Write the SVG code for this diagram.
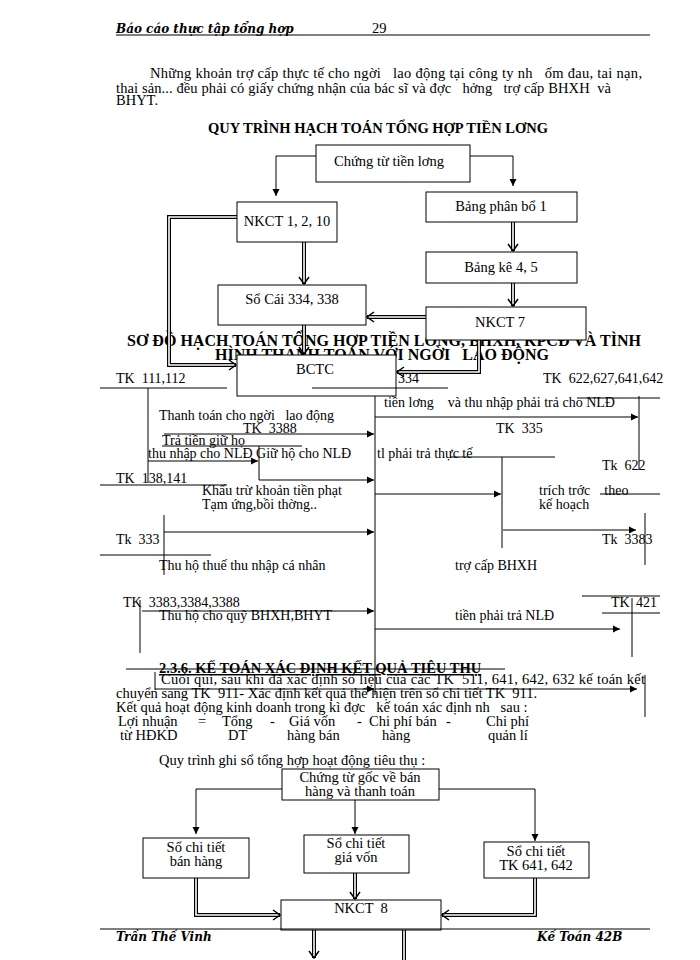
<svg xmlns="http://www.w3.org/2000/svg" width="700" height="960" viewBox="0 0 700 960">
<style>
text{font-family:"Liberation Serif","DejaVu Serif",serif;font-size:14px;fill:#000;white-space:pre}
.t{font-size:14.5px}
.h{font-size:14.5px;font-weight:bold}
.h2{font-size:16px;font-weight:bold}
.i{font-style:italic;font-weight:bold;font-size:12px;font-family:"DejaVu Serif",serif}
.box{fill:#fff;stroke:#000;stroke-width:1}
.ln{fill:none;stroke:#000;stroke-width:1}
.db{fill:none;stroke:#000;stroke-width:4}
.dw{fill:none;stroke:#fff;stroke-width:1.6}
</style>
<defs>
<marker id="a" markerWidth="8" markerHeight="8" refX="7" refY="4" orient="auto" markerUnits="userSpaceOnUse"><path d="M0,0.5 L7,4 L0,7.5 Z" fill="#000"/></marker>
<marker id="d" markerWidth="12" markerHeight="12" refX="10" refY="6" orient="auto" markerUnits="userSpaceOnUse"><path d="M3,1 L10,6 L3,11" fill="none" stroke="#000" stroke-width="1.5"/></marker>
</defs>
<rect width="700" height="960" fill="#fff"/>

<text x="116" y="33" class="i">Báo cáo thực tập tổng hợp</text>
<text x="372" y="33" class="t">29</text>
<line x1="116" y1="35" x2="650" y2="35" class="ln"/>
<text x="150" y="78" class="t" textLength="492">Những khoản trợ cấp thực tế cho ngời   lao động tại công ty nh   ốm đau, tai nạn,</text>
<text x="116" y="93" class="t" textLength="495">thai sản... đều phải có giấy chứng nhận của bác sĩ và đợc   hởng   trợ cấp BHXH  và</text>
<text x="116" y="105" class="t">BHYT.</text>
<text x="378" y="133" class="h" text-anchor="middle">QUY TRÌNH HẠCH TOÁN TỔNG HỢP TIỀN LƠNG</text>

<text x="127" y="346" class="h2" textLength="514">SƠ ĐỒ HẠCH TOÁN TỔNG HỢP TIỀN LƠNG, BHXH, KPCĐ VÀ TÌNH</text>
<text x="382" y="360" class="h2" text-anchor="middle">HÌNH THANH TOÁN VỚI NGỜI   LAO ĐỘNG</text>

<g id="connectors">
<polyline points="316,156 276,156 276,196" class="ln" marker-end="url(#a)"/>
<polyline points="470,156 513,156 513,186" class="ln" marker-end="url(#a)"/>
<line x1="304" y1="242" x2="304" y2="284" class="db"/><line x1="304" y1="242" x2="304" y2="284" class="dw" marker-end="url(#d)"/>
<line x1="513" y1="222" x2="513" y2="251" class="db"/><line x1="513" y1="222" x2="513" y2="251" class="dw" marker-end="url(#d)"/>
<line x1="513" y1="283" x2="513" y2="306" class="db"/><line x1="513" y1="283" x2="513" y2="306" class="dw" marker-end="url(#d)"/>
<line x1="426" y1="317" x2="367" y2="317" class="db"/><line x1="426" y1="317" x2="367" y2="317" class="dw" marker-end="url(#d)"/>
<line x1="304" y1="325" x2="304" y2="354" class="db"/><line x1="304" y1="325" x2="304" y2="354" class="dw" marker-end="url(#d)"/>
<polyline points="237,217 169,217 169,365 236,365" class="db"/><polyline points="237,217 169,217 169,365 236,365" class="dw" marker-end="url(#d)"/>
<polyline points="479,340 479,372 397,372" class="db"/><polyline points="479,340 479,372 397,372" class="dw" marker-end="url(#d)"/>
</g>

<g id="n-chungtu"><rect x="316" y="145" width="154" height="37" class="box"/><text x="389" y="166" class="t" text-anchor="middle">Chứng từ tiền lơng</text></g>
<g id="n-nkct1"><rect x="237" y="202" width="100" height="40" class="box"/><text x="287" y="226" class="t" text-anchor="middle">NKCT 1, 2, 10</text></g>
<g id="n-bpb"><rect x="426" y="192" width="151" height="30" class="box"/><text x="501" y="211" class="t" text-anchor="middle">Bảng phân bổ 1</text></g>
<g id="n-bk"><rect x="426" y="252" width="151" height="31" class="box"/><text x="501" y="272" class="t" text-anchor="middle">Bảng kê 4, 5</text></g>
<g id="n-socai"><rect x="218" y="285" width="148" height="40" class="box"/><text x="292" y="304" class="t" text-anchor="middle">Sổ Cái 334, 338</text></g>
<g id="n-nkct7"><rect x="426" y="307" width="160" height="33" class="box"/><text x="500" y="327" class="t" text-anchor="middle">NKCT 7</text></g>
<g id="n-bctc"><rect x="237" y="355" width="159" height="41" class="box"/><text x="296" y="374" class="t">BCTC</text></g>

<g id="t-accounts">
<text x="116" y="383">TK  111,112</text>
<line x1="100" y1="388" x2="227" y2="388" class="ln"/>
<line x1="148" y1="388" x2="148" y2="483" class="ln"/>
<text x="398" y="383">334</text>
<line x1="312" y1="388" x2="448" y2="388" class="ln"/>
<line x1="375" y1="396" x2="375" y2="695" class="ln"/>
<text x="543" y="383">TK  622,627,641,642</text>
<line x1="577" y1="398" x2="660" y2="398" class="ln"/>
<line x1="639" y1="396" x2="639" y2="470" class="ln"/>
<text x="384" y="407">tiền lơng    và thu nhập phải trả cho NLĐ</text>
<line x1="375" y1="417" x2="638" y2="417" class="ln" marker-end="url(#a)"/>
<text x="159" y="420">Thanh toán cho ngời   lao động</text>
<text x="243" y="433">TK  3388</text>
<line x1="164" y1="434" x2="374" y2="434" class="ln" marker-end="url(#a)"/>
<line x1="162" y1="446" x2="302" y2="446" class="ln"/>
<text x="162" y="445">Trả tiền giữ họ</text>
<text x="148" y="458">thu nhập cho NLĐ Giữ hộ cho NLĐ</text>
<line x1="148" y1="461" x2="258" y2="461" class="ln" marker-end="url(#a)"/>
<line x1="259" y1="446" x2="259" y2="480" class="ln"/>
<line x1="259" y1="480" x2="374" y2="480" class="ln" marker-end="url(#a)"/>
<text x="496" y="433">TK  335</text>
<text x="377" y="458">tl phải trả thực tế</text>
<line x1="450" y1="457" x2="555" y2="457" class="ln"/>
<line x1="502" y1="457" x2="502" y2="548" class="ln"/>
<line x1="375" y1="494" x2="501" y2="494" class="ln" marker-end="url(#a)"/>
<line x1="503" y1="530" x2="636" y2="530" class="ln" marker-end="url(#a)"/>
<text x="602" y="470">Tk  622</text>
<text x="116" y="483">TK  138,141</text>
<line x1="100" y1="485" x2="227" y2="485" class="ln"/>
<text x="539" y="495">trích trớc    theo</text>
<line x1="600" y1="494" x2="660" y2="494" class="ln"/>
<text x="539" y="509">kế hoạch</text>
<text x="202" y="495">Khấu trừ khoản tiền phạt</text>
<text x="202" y="509">Tạm ứng,bồi thờng..</text>
<line x1="645" y1="513" x2="645" y2="565" class="ln"/>
<text x="602" y="544">Tk  3383</text>
<line x1="164" y1="515" x2="164" y2="575" class="ln"/>
<line x1="164" y1="532" x2="374" y2="532" class="ln" marker-end="url(#a)"/>
<text x="116" y="544">Tk  333</text>
<line x1="100" y1="555" x2="211" y2="555" class="ln"/>
<text x="159" y="570">Thu hộ thuế thu nhập cá nhân</text>
<text x="455" y="570">trợ cấp BHXH</text>
<text x="123" y="607">TK  3383,3384,3388</text>
<line x1="140" y1="600" x2="140" y2="653" class="ln"/>
<line x1="142" y1="611" x2="374" y2="611" class="ln" marker-end="url(#a)"/>
<text x="159" y="620">Thu hộ cho quỹ BHXH,BHYT</text>
<line x1="582" y1="596" x2="660" y2="596" class="ln"/>
<text x="611" y="607">TK</text><text x="636" y="607">421</text>
<line x1="632" y1="598" x2="632" y2="657" class="ln"/>
<line x1="602" y1="613" x2="660" y2="613" class="ln"/>
<text x="455" y="620">tiền phải trả NLĐ</text>
<line x1="375" y1="629" x2="620" y2="629" class="ln" marker-end="url(#a)"/>
</g>

<text x="159" y="673" class="h" text-decoration="underline">2.3.6. KẾ TOÁN XÁC ĐỊNH KẾT QUẢ TIÊU THỤ</text>
<line x1="126" y1="669" x2="505" y2="669" class="ln"/>
<line x1="155" y1="672" x2="155" y2="690" class="ln"/>
<text x="161" y="684" class="t" textLength="484">Cuối quí, sau khi đã xác định số liệu của các TK  511, 641, 642, 632 kế toán kết</text>
<line x1="155" y1="689" x2="374" y2="689" class="ln" marker-end="url(#a)"/>
<line x1="375" y1="689" x2="637" y2="689" class="ln" marker-end="url(#a)"/>
<line x1="645" y1="675" x2="645" y2="717" class="ln"/>
<text x="116" y="698" class="t">chuyển sang TK  911- Xác định kết quả thể hiện trên sổ chi tiết TK  911.</text>
<text x="116" y="712" class="t">Kết quả hoạt động kinh doanh trong kì đợc   kế toán xác định nh   sau :</text>
<text y="726" class="t"><tspan x="118">Lợi nhuận</tspan><tspan x="198">=</tspan><tspan x="222">Tổng</tspan><tspan x="270">-</tspan><tspan x="289">Giá vốn</tspan><tspan x="357">-</tspan><tspan x="369">Chi phí bán</tspan><tspan x="446">-</tspan><tspan x="486">Chi phí</tspan></text>
<text y="740" class="t"><tspan x="120">từ HĐKD</tspan><tspan x="228">DT</tspan><tspan x="287">hàng bán</tspan><tspan x="382">hàng</tspan><tspan x="488">quản lí</tspan></text>

<text x="159" y="765" class="t">Quy trình ghi sổ tổng hợp hoạt động tiêu thụ :</text>
<g id="connectors2">
<polyline points="282,789 196,789 196,834" class="ln" marker-end="url(#a)"/>
<line x1="355" y1="800" x2="355" y2="834" class="ln" marker-end="url(#a)"/>
<polyline points="439,789 535,789 535,841" class="ln" marker-end="url(#a)"/>
<polyline points="196,878 196,915 280,915" class="db"/><polyline points="196,878 196,915 280,915" class="dw" marker-end="url(#d)"/>
<line x1="355" y1="873" x2="355" y2="899" class="db"/><line x1="355" y1="873" x2="355" y2="899" class="dw" marker-end="url(#d)"/>
<polyline points="535,878 535,915 442,915" class="db"/><polyline points="535,878 535,915 442,915" class="dw" marker-end="url(#d)"/>
<line x1="314" y1="930" x2="314" y2="958" class="db"/><line x1="314" y1="930" x2="314" y2="958" class="dw" marker-end="url(#d)"/>
<line x1="404" y1="930" x2="404" y2="960" class="db"/><line x1="404" y1="930" x2="404" y2="960" class="dw"/>
</g>
<g id="n-ctg"><rect x="282" y="769" width="157" height="31" class="box"/><text x="360" y="782" text-anchor="middle" class="t">Chứng từ gốc về bán</text><text x="360" y="796" text-anchor="middle" class="t">hàng và thanh toán</text></g>
<g id="n-bh"><rect x="143" y="838" width="106" height="40" class="box"/><text x="196" y="852" text-anchor="middle" class="t">Sổ chi tiết</text><text x="196" y="866" text-anchor="middle" class="t">bán hàng</text></g>
<g id="n-gv"><rect x="304" y="835" width="105" height="38" class="box"/><text x="356" y="848" text-anchor="middle" class="t">Sổ chi tiết</text><text x="356" y="862" text-anchor="middle" class="t">giá vốn</text></g>
<g id="n-641"><rect x="484" y="842" width="105" height="36" class="box"/><text x="536" y="856" text-anchor="middle" class="t">Sổ chi tiết</text><text x="536" y="870" text-anchor="middle" class="t">TK 641, 642</text></g>
<g id="n-nkct8"><rect x="281" y="900" width="160" height="30" class="box"/><text x="361" y="913" text-anchor="middle" class="t">NKCT  8</text></g>

<line x1="100" y1="929" x2="650" y2="929" class="ln"/>
<text x="116" y="941" class="i">Trần Thế Vinh</text>
<text x="537" y="941" class="i">Kế Toán 42B</text>
</svg>
